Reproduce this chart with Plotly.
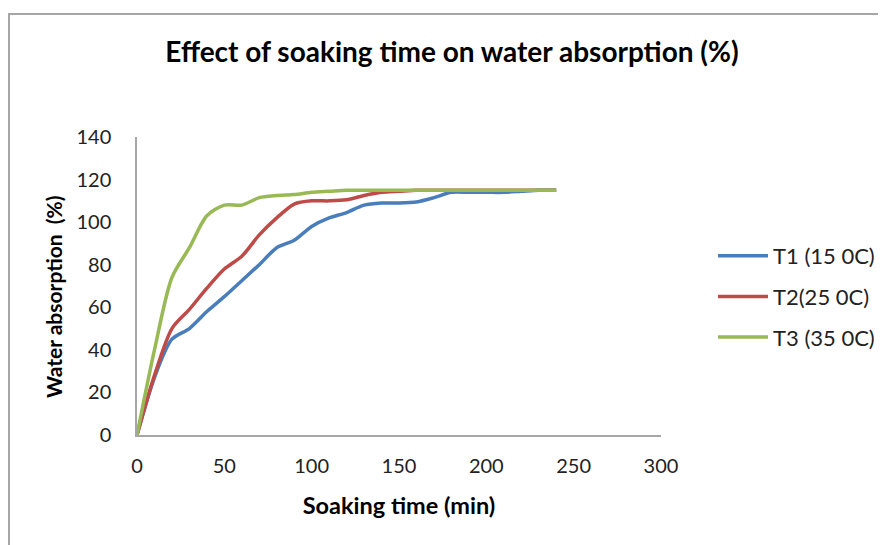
import plotly.graph_objects as go

time_min = [0, 10, 20, 30, 40, 50, 60, 70, 80, 90, 100, 110, 120, 130, 140, 150, 160, 170, 180, 190, 200, 210, 220, 230, 240]
t1 = [0, 27, 45, 50, 58, 65, 72.5, 80, 88, 91.5, 98, 102, 104.5, 108, 109, 109, 109.5, 111.5, 114, 114, 114, 114, 114.5, 115, 115]
t2 = [0, 28, 50, 59, 69, 78, 84, 94, 102, 108.5, 110, 110, 110.5, 112.5, 114, 114.5, 115, 115, 115, 115, 115, 115, 115, 115, 115]
t3 = [0, 40, 74, 88, 103, 108, 108, 111.5, 112.5, 113, 114, 114.5, 115, 115, 115, 115, 115, 115, 115, 115, 115, 115, 115, 115, 115]
names = ["T1 (15 0C)", "T2(25 0C)", "T3 (35 0C)"]
colors = ["#4a7ebb", "#be4b48", "#98b954"]

x_ticks = [0, 50, 100, 150, 200, 250, 300]
y_ticks = [0, 20, 40, 60, 80, 100, 120, 140]

font_family = "Lato, 'Open Sans', sans-serif"

W, H = 878, 537
L, T, PW, PH = 129, 129, 524, 298

fig = go.Figure()
for i, (name, ys, c) in enumerate(zip(names, [t1, t2, t3], colors)):
    fig.add_trace(go.Scatter(x=time_min, y=ys, mode="lines", name=name, legendgroup=f"g{i}",
                             line=dict(color=c, width=3.5, shape="spline", smoothing=0.8)))

fig.update_layout(
    width=W, height=H,
    margin=dict(l=L, r=W - L - PW, t=T, b=H - T - PH, autoexpand=False),
    paper_bgcolor="white", plot_bgcolor="white",
    font=dict(family=font_family, size=17, color="#000000"),
    title=dict(text="<b>Effect of soaking time on water absorption (%)</b>",
               x=444 / W, xref="container", xanchor="center",
               y=1 - 44 / H, yanchor="middle",
               font=dict(size=28, family=font_family, color="#000000")),
    xaxis=dict(range=[0, 300], tickvals=x_ticks, ticktext=[str(v) for v in x_ticks],
               showgrid=False, zeroline=False, showline=True, linecolor="#a6a6a6", linewidth=1.5,
               ticks="", tickfont=dict(size=20, color="#222"), ticklabelstandoff=12,
               title=dict(text="<b>Soaking time (min)</b>", font=dict(size=23.5), standoff=22)),
    yaxis=dict(range=[0, 140], tickvals=y_ticks, ticktext=[str(v) for v in y_ticks],
               showgrid=False, zeroline=False, showline=True, linecolor="#a6a6a6", linewidth=1.5,
               ticks="", tickfont=dict(size=20, color="#222"), ticklabelstandoff=20,
               title=dict(text="<b>Water absorption  (%)</b>&nbsp;&nbsp;&nbsp;&nbsp;", font=dict(size=21), standoff=8)),
    legend=dict(xref="container", yref="container", x=705 / W, xanchor="left",
                y=1 - 227 / H, yanchor="top",
                font=dict(size=22, color="#222"), tracegroupgap=9, itemwidth=50,
                bgcolor="rgba(0,0,0,0)"),
    showlegend=True,
)

fig.add_shape(type="rect", xref="paper", yref="paper",
              x0=(1 - L) / PW, x1=(900 - L) / PW,
              y0=(T + PH - 560) / PH, y1=(T + PH - 6) / PH,
              line=dict(color="#a6a6a6", width=2), fillcolor="rgba(0,0,0,0)", layer="below")

fig.write_html("out.html")
